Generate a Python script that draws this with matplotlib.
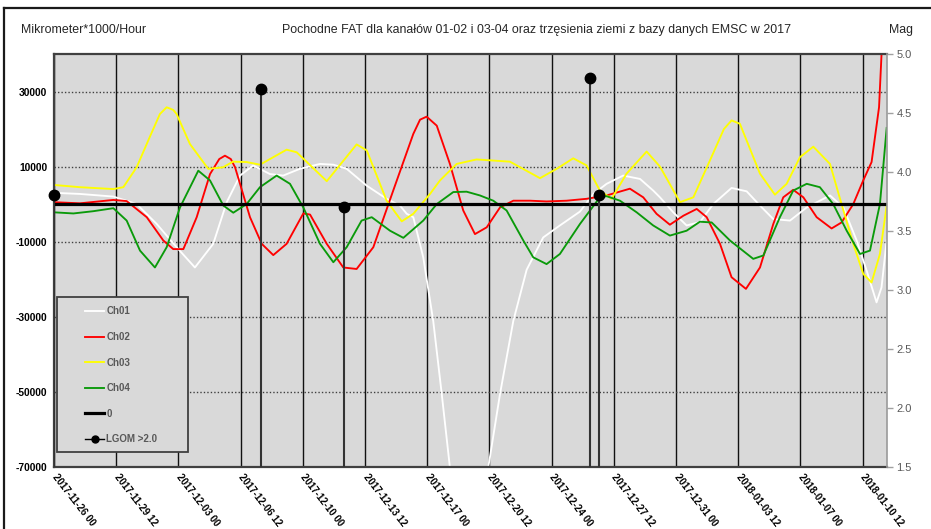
import matplotlib
matplotlib.use("Agg")
import matplotlib.pyplot as plt
from matplotlib.lines import Line2D
from matplotlib.patches import Rectangle
import numpy as np
import pandas as pd

plt.rcParams['font.family'] = ['Liberation Sans', 'DejaVu Sans']

# ---------------- data ----------------
START = "2017-11-26 00:00"
X_END = "2018-01-11 20:40"

title = "Pochodne FAT dla kanałów 01-02 i 03-04 oraz trzęsienia ziemi z bazy danych EMSC w 2017"
left_label = "Mikrometer*1000/Hour"
right_label = "Mag"

x_tick_labels = ["2017-11-26 00", "2017-11-29 12", "2017-12-03 00", "2017-12-06 12",
                 "2017-12-10 00", "2017-12-13 12", "2017-12-17 00", "2017-12-20 12",
                 "2017-12-24 00", "2017-12-27 12", "2017-12-31 00", "2018-01-03 12",
                 "2018-01-07 00", "2018-01-10 12"]
y_ticks = [-70000, -50000, -30000, -10000, 10000, 30000]
y_range = (-70000, 40000)
mag_ticks = [1.5, 2.0, 2.5, 3.0, 3.5, 4.0, 4.5, 5.0]
mag_range = (1.5, 5.0)

# days since START
ch01_days = [0, 1.46, 3.34, 4.65, 5.78, 6.90, 7.93, 8.96, 9.72, 10.47, 11.21, 12.15, 12.90,
             13.84, 14.97, 15.72, 16.47, 17.60, 18.72, 19.47, 19.85, 20.22, 20.41, 20.78,
             21.34, 21.82, 22.28, 22.85, 23.35, 23.86, 24.44, 25.10, 25.85, 26.60, 27.53,
             28.47, 29.60, 30.35, 31.10, 32.03, 32.98, 33.72, 34.10, 34.85, 35.60, 36.35,
             37.10, 38.13, 38.98, 39.73, 40.48, 41.42, 42.36, 43.67, 44.42, 45.17, 45.73,
             46.29, 46.57, 46.86]
ch01_vals = [3000, 2700, 2000, 0, -5300, -11500, -16900, -10600, 500, 7600, 10300, 8000, 7600,
             9400, 10700, 10500, 9400, 4900, 1400, -400, -2600, -3500, -7100, -14200,
             -31100, -50600, -70200, -90000, -100000, -90000, -70200, -50600, -31100, -17500, -8900,
             -5700, -2000, 2700, 5400, 7600, 6700, 3600, 1800, -2200, -5700, -4800,
             0, 4300, 3400, -400, -4000, -4400, -900, 2300, -900, -9700, -17700,
             -26200, -22200, -9700]

ch02_days = [0, 1.46, 3.34, 4.09, 5.22, 6.15, 6.71, 7.28, 8.03, 8.78, 9.30, 9.62, 9.95, 10.19,
             11.03, 11.69, 12.34, 13.09, 14.03, 14.41, 15.35, 16.28, 17.03, 17.97, 19.09,
             20.22, 20.60, 20.97, 21.54, 22.28, 23.03, 23.69, 24.35, 25.10, 25.85, 26.79,
             27.72, 28.85, 29.97, 31.10, 32.41, 33.16, 33.91, 34.66, 35.42, 36.17, 36.73,
             37.48, 38.13, 38.94, 39.73, 40.48, 41.04, 41.60, 42.17, 42.92, 43.76, 44.32,
             44.98, 45.54, 46.01, 46.43, 46.57, 46.86]
ch02_vals = [500, 200, 1100, 800, -3500, -9700, -12000, -12000, -3500, 8000, 12000, 12900, 12000,
             9800, -3500, -10600, -13600, -10600, -2500, -2800, -10600, -16900, -17300, -11500,
             3600, 18700, 22500, 23300, 20900, 10700, -1700, -8000, -6200, -900, 900, 900,
             700, 900, 1400, 2300, 4100, 1800, -2600, -5500, -3100, -1300, -3500,
             -10600, -19500, -22600, -16900, -5300, 1800, 3800, 1800, -3500, -6500, -4900,
             0, 6300, 11200, 25800, 39900, 52000]

ch03_days = [0, 1.46, 3.34, 3.90, 4.65, 5.40, 5.96, 6.34, 6.71, 6.90, 7.65, 8.68, 9.51,
             10.07, 10.84, 11.59, 13.09, 13.66, 15.35, 17.03, 17.60, 18.72, 19.57, 20.22,
             21.16, 21.72, 22.66, 23.78, 25.66, 27.35, 28.29, 29.22, 29.97, 30.72, 31.38,
             32.22, 33.35, 34.10, 35.23, 35.98, 36.91, 37.70, 38.13, 38.60, 39.73, 40.57,
             41.23, 41.98, 42.73, 43.67, 44.32, 44.98, 45.54, 46.01, 46.48, 46.86]
ch03_vals = [5100, 4500, 4000, 4500, 9800, 18000, 24000, 25800, 25100, 24000, 16000, 9400, 9800,
             11300, 11200, 10500, 14500, 13800, 6100, 15900, 14300, 900, -4600, -2600,
             2700, 6300, 10700, 11900, 11300, 6900, 9400, 12200, 10300, 3600, 1400,
             8100, 14000, 10000, 500, 1800, 11600, 20000, 22300, 21400, 8100, 2500,
             5400, 12500, 15300, 10700, 0, -10600, -18600, -20900, -13300, -400]

ch04_days = [0, 1.09, 2.21, 3.34, 4.09, 4.84, 5.68, 6.34, 7.09, 8.12, 8.78, 9.53, 10.09,
             10.84, 11.59, 12.53, 13.28, 14.03, 14.97, 15.72, 16.47, 17.31, 17.88, 18.91,
             19.66, 20.78, 21.54, 22.47, 23.22, 23.97, 24.72, 25.47, 26.41, 26.97, 27.72,
             28.47, 29.60, 30.72, 31.10, 31.85, 32.79, 33.72, 34.66, 35.60, 36.35, 37.01,
             38.04, 39.35, 39.92, 40.85, 41.60, 42.36, 43.10, 43.85, 44.61, 45.36, 45.92,
             46.48, 46.86]
ch04_vals = [-2200, -2500, -1900, -1100, -4400, -12400, -16900, -11500, -900, 8900, 6300, -400, -2300,
             0, 4500, 7600, 5400, -900, -10600, -15500, -11500, -4400, -3500, -7100,
             -9000, -4400, 0, 3200, 3300, 2300, 900, -1700, -9700, -14200, -16000,
             -13300, -5300, 1800, 2100, 900, -2200, -5700, -8400, -7100, -4700, -4900,
             -9700, -14600, -13700, -3500, 3600, 5400, 4500, 0, -7100, -13300, -12400,
             0, 20300]

zero_value = 0

quake_days = [0.0, 11.65, 16.32, 30.16, 30.69]
quake_mag = [3.8, 4.7, 3.7, 4.8, 3.8]
quake_base = 0.0

series_names = ["Ch01", "Ch02", "Ch03", "Ch04", "0", "LGOM >2.0"]
series_colors = ["#FFFFFF", "#FF0000", "#FFFF00", "#0A9A0A", "#000000", "#000000"]

# ---------------- figure ----------------
W, H = 931, 529
fig = plt.figure(figsize=(W / 100, H / 100), dpi=100)
fig.patch.set_facecolor("white")

L, R, T, B = 54, 886.7, 54, 466.7
ax = fig.add_axes([L / W, 1 - B / H, (R - L) / W, (B - T) / H])
ax.set_facecolor("#D9D9D9")
ax2 = ax.twinx()

t0 = pd.Timestamp(START)


def to_time(days):
    return (t0 + pd.to_timedelta(np.asarray(days, dtype=float), unit="D")).values


line_handles = []
for days, vals, name, col in zip([ch01_days, ch02_days, ch03_days, ch04_days],
                                 [ch01_vals, ch02_vals, ch03_vals, ch04_vals],
                                 series_names[:4], series_colors[:4]):
    ln, = ax.plot(to_time(days), vals, color=col, lw=1.35, label=name, zorder=2,
                  solid_joinstyle="round")
    line_handles.append(ln)

zl = ax.axhline(zero_value, color=series_colors[4], lw=2.3, zorder=3, label=series_names[4])
line_handles.append(zl)

ax.set_xlim(pd.Timestamp(START), pd.Timestamp(X_END))
ax.set_ylim(*y_range)
ax.set_yticks(y_ticks)
ax.set_yticklabels([str(v) for v in y_ticks])

tick_times = [pd.to_datetime(s, format="%Y-%m-%d %H") for s in x_tick_labels]
ax.set_xticks(tick_times)
ax.set_xticklabels(x_tick_labels)

ax.set_axisbelow(True)
ax.grid(axis="x", color="#111111", lw=1.0, linestyle="-")
ax.grid(axis="y", color="#404040", lw=1.0, linestyle=(0, (1, 1.5)))

ax.tick_params(axis="y", length=0, pad=5, labelsize=7.4, labelcolor="#000000")
for lab in ax.get_yticklabels():
    lab.set_fontweight("bold")
ax.tick_params(axis="x", length=0, pad=6, labelsize=7)
for lab in ax.get_xticklabels():
    lab.set_fontweight("bold")
    lab.set_rotation(-52)
    lab.set_ha("left")
    lab.set_va("center")
    lab.set_rotation_mode("anchor")

# quakes on magnitude axis
qt = to_time(quake_days)
ax2.vlines(qt, quake_base, quake_mag, color="#333333", lw=1.5, zorder=3)
ax2.plot(qt, quake_mag, linestyle="none", marker="o", color="black", markersize=7.5,
         zorder=4, clip_on=False)
ax2.set_ylim(*mag_range)
ax2.set_yticks(mag_ticks)
ax2.set_yticklabels([f"{m:.1f}" for m in mag_ticks])
ax2.tick_params(axis="y", length=4, width=1, color="#A0A0A0", pad=3, labelsize=8,
                labelcolor="#595959")

for sp in ["left", "bottom", "top"]:
    ax.spines[sp].set_color("#404040")
    ax.spines[sp].set_linewidth(1.6)
ax.spines["right"].set_visible(False)
for sp in ["left", "bottom", "top"]:
    ax2.spines[sp].set_visible(False)
ax2.spines["right"].set_color("#9A9A9A")
ax2.spines["right"].set_linewidth(1.2)

# legend box
lx0, ly0, lx1, ly1 = 57, 297, 188, 452
ax2.add_patch(Rectangle(((lx0 - L) / (R - L), (B - ly1) / (B - T)),
                        (lx1 - lx0) / (R - L), (ly1 - ly0) / (B - T),
                        transform=ax2.transAxes, facecolor="#D9D9D9",
                        edgecolor="#404040", lw=1.3, zorder=6, clip_on=False))
quake_handle = Line2D([], [], color="black", lw=1.0, marker="o", markersize=5)
handles = line_handles + [quake_handle]
leg = ax2.legend(handles, series_names, loc="upper left",
                 bbox_to_anchor=(85 / W, 1 - 306.5 / H), bbox_transform=fig.transFigure,
                 frameon=False, borderpad=0, borderaxespad=0, handlelength=2.0,
                 handletextpad=0.2, labelspacing=1.6,
                 prop={"weight": "bold", "size": 7},
                 labelcolor="#595959")
leg.set_zorder(7)

# texts
fig.text(21 / W, 1 - 30 / H, left_label, ha="left", va="center", fontsize=8.9, color="#262626")
fig.text(536 / W, 1 - 30 / H, title, ha="center", va="center", fontsize=8.9, color="#262626")
fig.text(901 / W, 1 - 30 / H, right_label, ha="center", va="center", fontsize=8.9, color="#262626")

# outer chart frame
fig.add_artist(Line2D([4 / W, 1.0], [1 - 8 / H, 1 - 8 / H], transform=fig.transFigure,
                      color="#1A1A1A", lw=1.6))
fig.add_artist(Line2D([4 / W, 4 / W], [0.0, 1 - 8 / H], transform=fig.transFigure,
                      color="#1A1A1A", lw=1.6))

fig.savefig("out.png", dpi=100, facecolor="white")
